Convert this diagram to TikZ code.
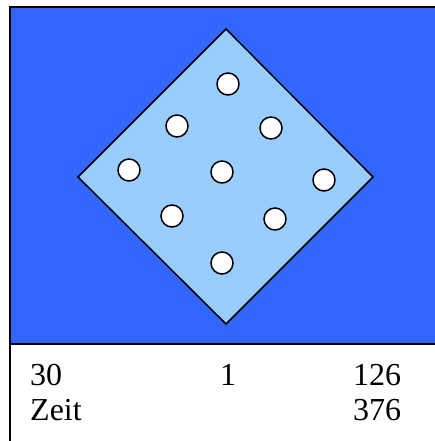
\documentclass[tikz,border=0pt]{standalone}
\usepackage{fontspec}
\setmainfont{Liberation Serif}
\definecolor{bgblue}{HTML}{3366FF}
\definecolor{lightblue}{HTML}{99CCFF}
\begin{document}
\begin{tikzpicture}[x=1pt,y=-1pt,
  dot/.style={circle,draw=black,line width=1.5pt,fill=white,minimum size=22pt,inner sep=0pt},
  label/.style={anchor=base west,inner sep=0pt,font=\fontsize{32}{35}\selectfont},
  edge/.style={draw=black,line width=1.5pt}]
\useasboundingbox (0,0) rectangle (435,441);
% blue field
\fill[bgblue] (10,7) rectangle (436,344);
\draw[edge] (436,7) -- (10,7) -- (10,442);
\draw[edge] (10,344) -- (436,344);
% diamond
\coordinate (dt) at (226,29);
\coordinate (dr) at (373,177);
\coordinate (db) at (226,324);
\coordinate (dl) at (78,177);
\draw[edge,fill=lightblue,line join=miter] (dt) -- (dr) -- (db) -- (dl) -- cycle;
% dots
\node[dot] (c1) at (228,84) {};
\node[dot] (c2) at (177,126) {};
\node[dot] (c3) at (271,128) {};
\node[dot] (c4) at (129,170) {};
\node[dot] (c5) at (222,172) {};
\node[dot] (c6) at (324,180) {};
\node[dot] (c7) at (172,216) {};
\node[dot] (c8) at (275,219) {};
\node[dot] (c9) at (222,263) {};
% labels
\node[label] (t1) at (30,385) {30};
\node[label] (t2) at (220,385) {1};
\node[label] (t3) at (353,385) {126};
\node[label] (t4) at (30,420) {Zeit};
\node[label] (t5) at (353,420) {376};
\end{tikzpicture}
\end{document}
